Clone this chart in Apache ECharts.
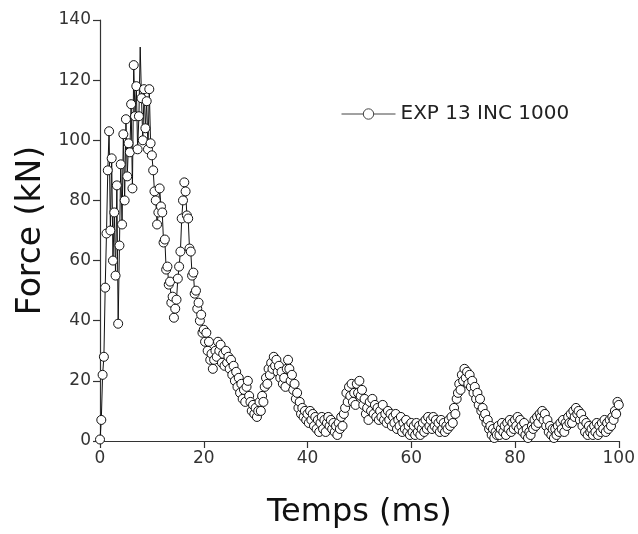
<!DOCTYPE html>
<html>
<head>
<meta charset="utf-8">
<script src="https://cdn.jsdelivr.net/npm/echarts@6/dist/echarts.min.js"></script>
<style>
html,body{margin:0;padding:0;background:#fff;}
#chart{width:638px;height:534px;}
</style>
</head>
<body>
<div id="chart"></div>
<script>
// Time step of the recorded samples (ms)
const timeStep = 0.25;
// Force values (kN), one every 0.25 ms from 0 to 100 ms
const force = [
  0.5, 7, 22, 28, 51, 69, 90, 103, 70, 94, 60, 76, 55, 85, 39, 65, 92, 72, 102, 80,
  107, 88, 99, 96, 112, 84, 125, 108, 118, 97, 108, 131, 114, 100, 117, 104, 113, 97, 117, 99,
  95, 90, 83, 80, 72, 76, 84, 78, 76, 66, 67, 57, 58, 52, 53, 46, 48, 41, 44, 47,
  54, 58, 63, 74, 80, 86, 83, 75, 74, 64, 63, 55, 56, 49, 50, 44, 46, 40, 42, 36,
  37, 33, 36, 30, 33, 27, 29, 24, 27, 30, 28, 33, 30, 32, 26, 29, 25, 30, 26, 28,
  24, 27, 22, 25, 20, 23, 18, 21, 16, 19, 14, 17, 13, 18, 20, 15, 13, 10, 12, 9,
  11, 8, 10, 13, 10, 15, 13, 18, 21, 19, 24, 22, 26, 24, 28, 25, 27, 23, 25, 21,
  23, 19, 21, 18, 24, 27, 24, 20, 22, 17, 19, 14, 16, 11, 13, 9, 11, 8, 10, 7,
  9, 6, 10, 7, 9, 5, 8, 4, 7, 3, 6, 8, 4, 7, 3, 6, 8, 5, 7, 4,
  6, 3, 5, 2, 6, 4, 8, 5, 9, 11, 16, 13, 18, 15, 19, 13, 16, 12, 19, 16,
  20, 15, 17, 12, 14, 9, 11, 7, 13, 10, 14, 9, 12, 8, 11, 7, 10, 8, 12, 7,
  9, 6, 10, 7, 9, 5, 8, 6, 9, 4, 7, 5, 8, 3, 6, 4, 7, 3, 5, 2,
  6, 3, 5, 2, 6, 3, 5, 2, 4, 6, 3, 7, 4, 8, 5, 7, 4, 8, 5, 7,
  4, 6, 3, 7, 4, 6, 3, 5, 4, 7, 5, 8, 6, 11, 9, 14, 16, 19, 17, 22,
  20, 24, 21, 23, 19, 22, 18, 20, 16, 18, 14, 16, 12, 14, 10, 11, 8, 9, 6, 7,
  4, 5, 2, 4, 1, 3, 2, 5, 2, 4, 6, 3, 5, 2, 6, 4, 7, 3, 6, 4,
  7, 5, 8, 4, 7, 5, 3, 6, 2, 4, 1, 3, 2, 5, 4, 7, 5, 8, 6, 9,
  8, 10, 7, 9, 5, 7, 3, 5, 2, 4, 1, 4, 2, 5, 3, 6, 4, 7, 3, 6,
  5, 8, 6, 9, 6, 10, 8, 11, 9, 10, 7, 9, 5, 7, 3, 6, 2, 5, 3, 4,
  2, 5, 3, 6, 2, 5, 3, 6, 4, 7, 3, 6, 4, 7, 5, 8, 7, 10, 9, 13,
  12
];
const xTicks = [0, 20, 40, 60, 80, 100];
const yTicks = [0, 20, 40, 60, 80, 100, 120, 140];
const seriesName = 'EXP 13 INC 1000';

const points = force.map((v, i) => {
  const p = { value: [i * timeStep, v] };
  if (v > 128) p.symbol = 'none';
  return p;
});

const fontFam = '"DejaVu Sans", sans-serif';
const chart = echarts.init(document.getElementById('chart'), null, { renderer: 'canvas' });
chart.setOption({
  animation: false,
  backgroundColor: '#fff',
  grid: { left: 100, right: 17, top: 20, bottom: 92, containLabel: false },
  legend: {
    data: [seriesName],
    left: 336,
    top: 99,
    itemWidth: 54,
    itemHeight: 13,
    itemGap: 8,
    lineStyle: { width: 1, color: '#444' },
    itemStyle: { color: '#fff', borderColor: '#444', borderWidth: 1 },
    textStyle: { fontFamily: fontFam, fontSize: 20, color: '#222' }
  },
  xAxis: {
    type: 'value',
    min: 0, max: 100, interval: 20,
    name: 'Temps (ms)',
    nameLocation: 'middle',
    nameGap: 56,
    nameTextStyle: { fontFamily: fontFam, fontSize: 32, color: '#111' },
    axisLine: { lineStyle: { color: '#333', width: 1.2 } },
    axisTick: { show: true, length: 7, lineStyle: { color: '#333', width: 1.2 } },
    axisLabel: { fontFamily: fontFam, fontSize: 17, color: '#333', margin: 9,
      formatter: v => xTicks.includes(v) ? String(v) : '' },
    splitLine: { show: false }
  },
  yAxis: {
    type: 'value',
    min: 0, max: 140, interval: 20,
    name: 'Force (kN)',
    nameLocation: 'middle',
    nameGap: 50,
    nameRotate: 90,
    nameTextStyle: { fontFamily: fontFam, fontSize: 33, color: '#111' },
    axisLine: { show: true, lineStyle: { color: '#333', width: 1.2 } },
    axisTick: { show: true, length: 7, lineStyle: { color: '#333', width: 1.2 } },
    axisLabel: { fontFamily: fontFam, fontSize: 17, color: '#333', margin: 9,
      formatter: v => yTicks.includes(v) ? String(v) : '' },
    splitLine: { show: false }
  },
  series: [{
    name: seriesName,
    type: 'line',
    data: points,
    symbol: 'circle',
    symbolSize: 9,
    showAllSymbol: true,
    itemStyle: { color: '#fff', borderColor: '#111', borderWidth: 1 },
    lineStyle: { color: '#111', width: 1 },
    emphasis: { disabled: true }
  }]
});
</script>
</body>
</html>
